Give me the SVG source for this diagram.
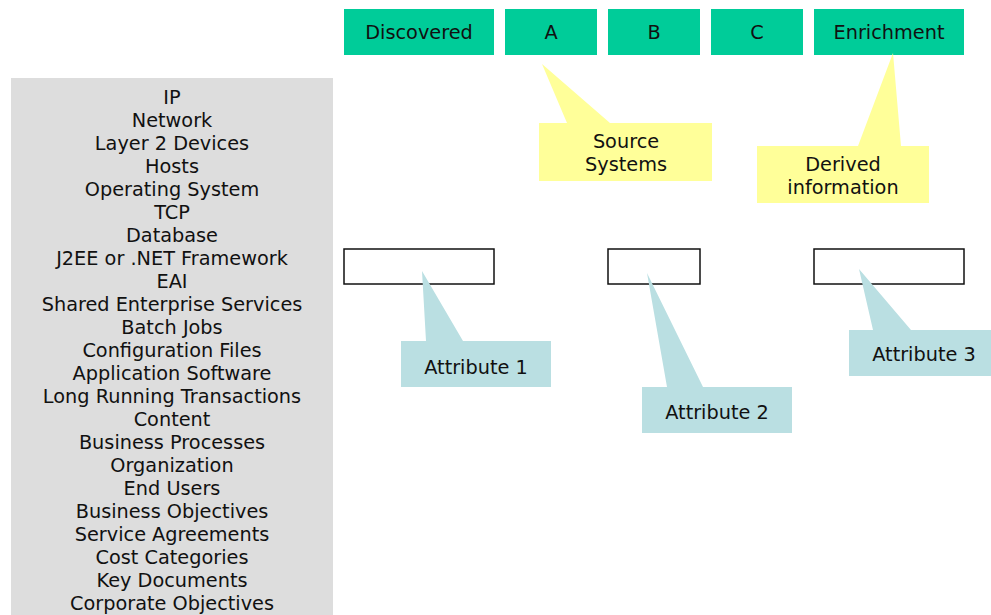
<svg xmlns="http://www.w3.org/2000/svg" width="991" height="615" viewBox="0 0 991 615">
<style>
text{font-family:"DejaVu Sans","Verdana",sans-serif;font-size:19.3px;fill:#111;text-anchor:middle}
.g{fill:#00CC99}
.y{fill:#FFFF99}
.b{fill:#BADFE2}
.w{fill:#fff;stroke:#111;stroke-width:1.5}
.p{fill:#DDDDDD}
</style>
<rect width="991" height="615" fill="#fff"/>
<g id="layers">
<rect class="p" x="11" y="78" width="322" height="537"/>
<text x="172" y="104">IP</text>
<text x="172" y="127">Network</text>
<text x="172" y="150">Layer 2 Devices</text>
<text x="172" y="173">Hosts</text>
<text x="172" y="196">Operating System</text>
<text x="172" y="219">TCP</text>
<text x="172" y="242">Database</text>
<text x="172" y="265">J2EE or .NET Framework</text>
<text x="172" y="288">EAI</text>
<text x="172" y="311">Shared Enterprise Services</text>
<text x="172" y="334">Batch Jobs</text>
<text x="172" y="357">Configuration Files</text>
<text x="172" y="380">Application Software</text>
<text x="172" y="403">Long Running Transactions</text>
<text x="172" y="426">Content</text>
<text x="172" y="449">Business Processes</text>
<text x="172" y="472">Organization</text>
<text x="172" y="495">End Users</text>
<text x="172" y="518">Business Objectives</text>
<text x="172" y="541">Service Agreements</text>
<text x="172" y="564">Cost Categories</text>
<text x="172" y="587">Key Documents</text>
<text x="172" y="610">Corporate Objectives</text>
</g>
<g id="discovered"><rect class="g" x="344" y="9" width="150" height="46"/><text x="419" y="39">Discovered</text></g>
<g id="a"><rect class="g" x="505" y="9" width="92" height="46"/><text x="551" y="39">A</text></g>
<g id="b"><rect class="g" x="608" y="9" width="92" height="46"/><text x="654" y="39">B</text></g>
<g id="c"><rect class="g" x="711" y="9" width="92" height="46"/><text x="757" y="39">C</text></g>
<g id="enrichment"><rect class="g" x="814" y="9" width="150" height="46"/><text x="889" y="39">Enrichment</text></g>
<g id="box1"><rect class="w" x="344" y="249" width="150" height="35"/></g>
<g id="box2"><rect class="w" x="608" y="249" width="92" height="35"/></g>
<g id="box3"><rect class="w" x="814" y="249" width="150" height="35"/></g>
<g id="connectors"></g>
<g id="source-systems"><path class="y" d="M539,123 L567,123 L542,64 L610,123 L712,123 L712,181 L539,181 Z"/><text x="626" y="148">Source</text><text x="626" y="171">Systems</text></g>
<g id="derived-information"><path class="y" d="M757,146 L858,146 L893,53 L901,146 L929,146 L929,203 L757,203 Z"/><text x="843" y="171">Derived</text><text x="843" y="194">information</text></g>
<g id="attribute1"><path class="b" d="M401,341 L426,341 L422,271 L463,341 L551,341 L551,387 L401,387 Z"/><text x="476" y="374">Attribute 1</text></g>
<g id="attribute2"><path class="b" d="M642,387 L667,387 L647,273 L703,387 L792,387 L792,433 L642,433 Z"/><text x="717" y="419">Attribute 2</text></g>
<g id="attribute3"><path class="b" d="M849,330 L873,330 L859,269 L911,330 L999,330 L999,376 L849,376 Z"/><text x="924" y="361">Attribute 3</text></g>
</svg>
